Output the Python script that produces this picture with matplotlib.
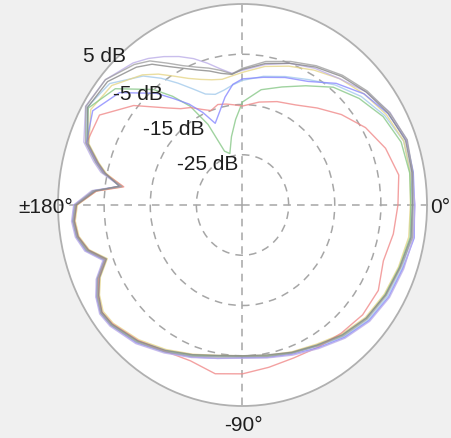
import numpy as np
import matplotlib.pyplot as plt

plt.rcParams['font.family'] = ['Liberation Sans', 'DejaVu Sans']

# measured directions (degrees) and levels (dB) for each trace
angles = [-180, -175, -170, -165, -160, -155, -150, -145, -140, -130, -120, -110,
          -100, -90, -80, -70, -60, -50, -40, -30, -20, -10, 0, 10, 20, 30, 40,
          50, 60, 70, 80, 90, 95, 100, 105, 110, 115, 120, 125, 130, 140, 150,
          160, 165, 168, 172, 175, 180]

grey = [1.3, 1.9, 1.5, 0.0, -3.2, -0.3, 1.4, 2.5, 2.2, 0.6, -1.3, -3.0,
        -4.3, -4.8, -4.4, -3.6, -2.6, -1.0, 0.3, 1.0, 1.5, 2.4, 2.0, 2.5, 3.0, 1.8, 0.3,
        -1.3, -3.0, -4.6, -6.0, -7.8, -8.8, -7.8, -6.8, -5.8, -4.4, -2.4, 0.0, 1.5, 3.8, 4.2,
        1.2, -2.0, -4.0, -8.6, -2.5, 1.3]
dark = [1.0, 1.6, 1.2, -0.4, -3.6, -0.8, 1.0, 2.2, 1.9, 0.3, -1.6, -3.3,
        -4.6, -5.0, -4.7, -3.8, -2.8, -1.3, 0.0, 0.8, 1.3, 2.1, 1.8, 2.3, 2.6, 1.5, 0.0,
        -1.6, -3.3, -5.0, -6.4, -8.0, -8.9, -8.4, -7.4, -6.4, -5.0, -3.2, -0.8, 0.8, 3.2, 3.8,
        0.6, -2.6, -4.6, -8.0, -3.0, 1.0]
blue = [1.5, 2.0, 1.6, 0.2, -3.0, -0.2, 1.6, 2.6, 2.3, 0.8, -1.2, -2.8,
        -4.0, -4.6, -4.2, -3.4, -2.2, -0.6, 0.8, 1.6, 2.0, 2.8, 2.3, 2.6, 2.8, 1.4, -0.6,
        -3.4, -6.6, -8.0, -9.2, -9.9, -10.9, -13.2, -15.8, -17.7, -14.7, -11.8, -9.2, -6.0, -0.2, 2.5,
        1.0, -2.2, -4.2, -8.2, -2.6, 1.5]
green = [1.1, 1.7, 1.3, -0.2, -3.4, -0.5, 1.2, 2.3, 2.0, 0.4, -1.5, -3.2,
         -4.5, -4.9, -4.5, -3.7, -2.7, -1.2, 0.1, 0.7, 1.2, 1.9, 1.5, 1.8, 1.6, 0.2, -2.0,
         -4.4, -7.6, -10.0, -11.7, -14.5, -17.9, -21.2, -24.4, -23.6, -17.3, -12.3, -8.6, -5.0, 1.0, 3.6,
         0.9, -2.3, -4.3, -8.4, -2.8, 1.1]
red = [1.0, 1.6, 1.2, -0.4, -3.4, -0.6, 1.1, 2.2, 1.8, 0.2, -1.4, -2.0,
       -0.9, -1.4, -2.2, -2.6, -2.3, -1.7, -1.0, -1.0, -2.5, -1.8, -1.3, -0.6, -2.0, -4.2, -7.0,
       -9.8, -12.0, -13.1, -14.2, -15.3, -15.0, -14.6, -14.3, -15.0, -14.0, -12.6, -11.6, -9.8, -4.2, 0.8,
       1.0, -2.4, -4.4, -9.0, -3.2, 1.0]
yellow = [0.8, 1.4, 1.0, -0.6, -3.8, -1.0, 0.8, 1.9, 1.6, 0.0, -1.8, -3.4,
          -4.6, -5.0, -4.6, -3.9, -3.0, -1.5, -0.2, 0.5, 1.0, 1.6, 1.4, 1.9, 2.2, 1.0, -0.6,
          -2.2, -4.0, -5.6, -7.0, -8.6, -9.2, -9.6, -9.2, -8.4, -7.2, -5.4, -3.2, -1.2, 2.0, 3.0,
          0.4, -2.8, -4.8, -8.8, -3.2, 0.8]
lavender = [1.6, 2.2, 1.8, 0.4, -2.8, 0.0, 1.7, 2.8, 2.5, 1.0, -1.0, -2.7,
            -4.0, -4.5, -4.1, -3.2, -2.0, -0.4, 1.0, 1.8, 2.2, 2.6, 2.4, 2.3, 2.9, 1.9, 0.0,
            -2.2, -3.6, -5.0, -6.6, -8.2, -8.7, -7.5, -5.8, -4.0, -2.4, -0.9, 0.6, 1.9, 3.8, 4.3,
            1.6, -1.6, -3.6, -8.2, -2.2, 1.6]
lightblue = [1.2, 1.8, 1.4, -0.1, -3.3, -0.4, 1.3, 2.4, 2.1, 0.5, -1.4, -3.1,
             -4.4, -4.9, -4.5, -3.7, -2.5, -0.8, 0.6, 1.3, 1.8, 2.2, 1.9, 2.0, 2.2, 0.6, -1.4,
             -3.8, -6.2, -7.8, -9.0, -10.2, -11.0, -11.8, -12.2, -11.5, -9.5, -7.0, -4.2, -1.5, 2.6, 3.9,
             1.0, -2.1, -4.1, -8.4, -2.7, 1.2]

series = [(lightblue, '#a4cbec'), (yellow, '#e6d688'), (green, '#88c888'),
          (red, '#f08a8a'), (blue, '#8888ff'), (lavender, '#bcaee8'),
          (grey, '#a0a0a0'), (dark, '#888888')]

ring_vals = [-25, -15, -5]

fig = plt.figure(figsize=(4.52, 4.39), dpi=100)
fig.patch.set_facecolor('#f0f0f0')
ax = fig.add_axes([58 / 452, 32 / 439, 369 / 452, 402 / 439], projection='polar')
ax.set_aspect('auto')
ax.set_facecolor('white')

th = np.deg2rad(angles)
for vals, col in series:
    ax.plot(th, vals, color=col, lw=1.0, alpha=0.8)

ax.set_ylim(-35, 5)
ax.set_rticks(ring_vals)
ax.set_thetagrids([0, 90, 180, 270])
ax.set_xticklabels([])
ax.set_yticklabels([])
ax.tick_params(length=0)
ax.grid(True, color='#a6a6a6', ls=(0, (5, 4)), lw=1.1)
ax.spines['polar'].set_color('#b0b0b0')
ax.spines['polar'].set_linewidth(1.3)

def put(x, y, s):
    fig.text(x / 452, 1 - y / 439, s, fontsize=15, color='#1e1e1e',
             ha='center', va='center')

put(105, 57, '5 dB')
put(138, 94, '-5 dB')
put(174, 130, '-15 dB')
put(208, 165, '-25 dB')
put(46, 208, '±180°')
put(440, 208, '0°')
put(243, 426, '-90°')

fig.savefig('out.png', dpi=100, facecolor=fig.get_facecolor())
